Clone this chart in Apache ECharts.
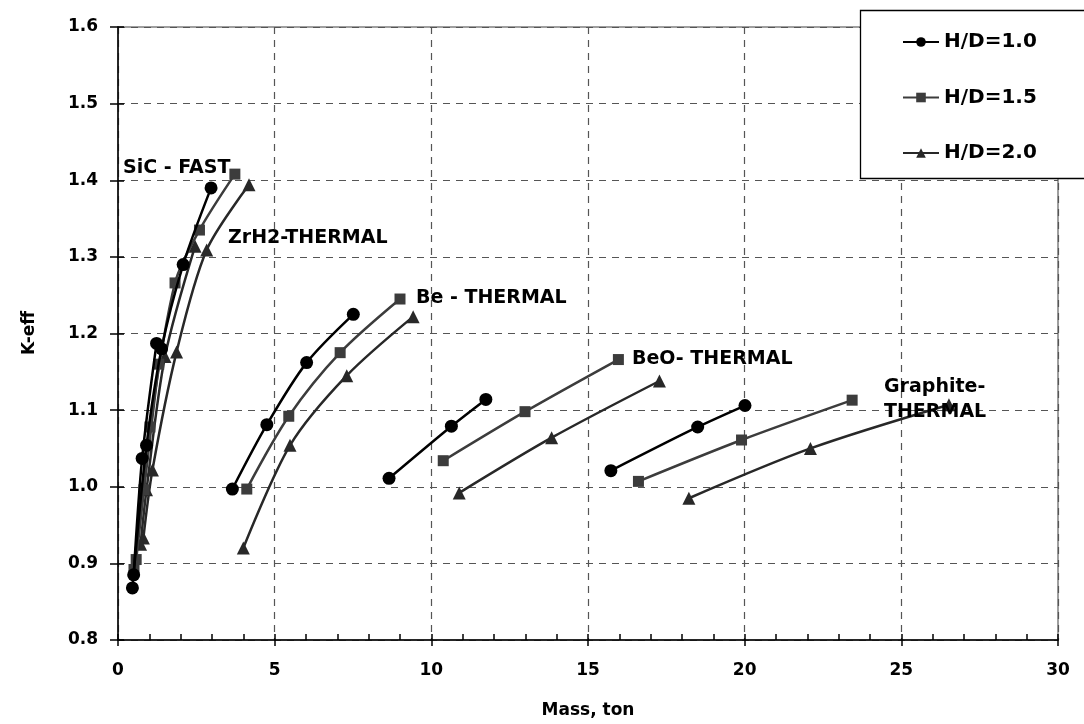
<!DOCTYPE html>
<html><head><meta charset="utf-8">
<script src="https://cdn.jsdelivr.net/npm/echarts@6/dist/echarts.min.js"></script>
<style>html,body{margin:0;padding:0;background:#fff}#c{width:1084px;height:724px}</style>
</head><body><div id="c"></div>
<script>
// Legend / series names
const hdNames = ['H/D=1.0', 'H/D=1.5', 'H/D=2.0'];
// Axis ranges and tick labels
const xTicks = [0, 5, 10, 15, 20, 25, 30];
const yTicks = [0.8, 0.9, 1.0, 1.1, 1.2, 1.3, 1.4, 1.5, 1.6];

// [mass (ton), K-eff]
const sicHD10 = [[0.46, 0.868], [0.91, 1.054], [1.39, 1.180], [2.08, 1.290], [2.97, 1.390]];
const sicHD15 = [[0.51, 0.892], [1.02, 1.078], [1.82, 1.266], [2.60, 1.335], [3.73, 1.408]];
const sicHD20 = [[0.81, 0.933], [1.10, 1.022], [1.87, 1.176], [2.83, 1.309], [4.18, 1.394]];

const zrhHD10 = [[0.50, 0.885], [0.77, 1.037], [1.23, 1.187]];
const zrhHD15 = [[0.58, 0.905], [0.83, 0.996], [1.30, 1.160]];
const zrhHD20 = [[0.72, 0.925], [0.91, 0.996], [1.50, 1.170], [2.46, 1.314]];

const beHD10 = [[3.65, 0.997], [4.75, 1.081], [6.02, 1.162], [7.51, 1.225]];
const beHD15 = [[4.11, 0.997], [5.45, 1.092], [7.09, 1.175], [9.00, 1.245]];
const beHD20 = [[4.00, 0.920], [5.49, 1.054], [7.30, 1.145], [9.42, 1.222]];

const beoHD10 = [[8.65, 1.011], [10.64, 1.079], [11.74, 1.114]];
const beoHD15 = [[10.38, 1.034], [12.99, 1.098], [15.97, 1.166]];
const beoHD20 = [[10.89, 0.992], [13.84, 1.064], [17.28, 1.138]];

const grHD10 = [[15.73, 1.021], [18.50, 1.078], [20.01, 1.106]];
const grHD15 = [[16.61, 1.007], [19.90, 1.061], [23.43, 1.113]];
const grHD20 = [[18.22, 0.985], [22.10, 1.050], [26.52, 1.107]];

const FONT = '"DejaVu Sans", Verdana, sans-serif';
const styles = [
  { color: '#000000', symbol: 'circle', size: 13 },
  { color: '#3c3c3c', symbol: 'rect', size: 11 },
  { color: '#282828', symbol: 'triangle', size: 13 }
];
const groups = [
  [sicHD10, sicHD15, sicHD20],
  [zrhHD10, zrhHD15, zrhHD20],
  [beHD10, beHD15, beHD20],
  [beoHD10, beoHD15, beoHD20],
  [grHD10, grHD15, grHD20]
];
const series = [];
groups.forEach(g => g.forEach((d, i) => {
  const s = styles[i];
  series.push({
    name: hdNames[i], type: 'line', data: d, smooth: 0.3,
    symbol: s.symbol, symbolSize: s.size, showSymbol: true,
    lineStyle: { color: s.color, width: 2.5 },
    itemStyle: { color: s.color, opacity: 1 },
    emphasis: { disabled: true }, animation: false, z: 5 - i
  });
}));

const chart = echarts.init(document.getElementById('c'), null, { renderer: 'canvas' });
const labelStyle = { fontFamily: FONT, fontWeight: 'bold', fontSize: 17, color: '#000' };
chart.setOption({
  animation: false,
  grid: { left: 118, right: 26, top: 27, bottom: 84, show: true, borderColor: '#808080', borderWidth: 1.5, backgroundColor: '#fff' },
  xAxis: [{
    type: 'value', min: xTicks[0], max: xTicks[xTicks.length - 1], interval: 5,
    axisLine: { show: true, onZero: false, lineStyle: { color: '#000', width: 1.5 } },
    axisTick: { show: true, inside: false, length: 6, lineStyle: { color: '#000', width: 1.5 } },
    axisLabel: Object.assign({ margin: 22 }, labelStyle),
    splitLine: { show: true, lineStyle: { color: '#555', type: [7, 6], width: 1.2 } }
  }, {
    type: 'value', min: 0, max: 30, interval: 1, position: 'bottom',
    axisLine: { show: false }, axisLabel: { show: false }, splitLine: { show: false },
    axisTick: { show: true, inside: true, length: 6, lineStyle: { color: '#000', width: 1.5 } }
  }],
  yAxis: [{
    type: 'value', min: yTicks[0], max: yTicks[yTicks.length - 1], interval: 0.1,
    axisLine: { show: true, onZero: false, lineStyle: { color: '#000', width: 1.5 } },
    axisTick: { show: true, inside: false, length: 8, lineStyle: { color: '#000', width: 1.5 } },
    axisLabel: Object.assign({ margin: 20, formatter: v => v.toFixed(1) }, labelStyle),
    splitLine: { show: true, lineStyle: { color: '#555', type: [7, 6], width: 1.2 } }
  }, {
    type: 'value', min: 0.8, max: 1.6, interval: 0.1, position: 'left',
    axisLine: { show: false }, axisLabel: { show: false }, splitLine: { show: false },
    axisTick: { show: true, inside: true, length: 6, lineStyle: { color: '#000', width: 1.5 } }
  }],
  legend: {
    data: hdNames, orient: 'vertical', left: 902, top: 32, padding: 0,
    itemGap: 35.5, itemWidth: 36, itemHeight: 12, z: 10,
    textStyle: Object.assign({}, labelStyle, { fontSize: 20 }), inactiveColor: '#000'
  },
  graphic: [
    { type: 'rect', z: 8, shape: { x: 860.5, y: 10.5, width: 240, height: 168 }, style: { fill: '#fff', stroke: '#000', lineWidth: 1.3 } },
    { type: 'text', z: 9, left: 123, top: 159, style: { text: 'SiC - FAST', font: 'bold 19px ' + FONT, fill: '#000' } },
    { type: 'text', z: 9, left: 228, top: 229, style: { text: 'ZrH2-THERMAL', font: 'bold 19px ' + FONT, fill: '#000' } },
    { type: 'text', z: 9, left: 416, top: 289, style: { text: 'Be - THERMAL', font: 'bold 19px ' + FONT, fill: '#000' } },
    { type: 'text', z: 9, left: 632, top: 350, style: { text: 'BeO- THERMAL', font: 'bold 19px ' + FONT, fill: '#000' } },
    { type: 'text', z: 9, left: 884, top: 375, style: { text: 'Graphite-\nTHERMAL', font: 'bold 19px ' + FONT, fill: '#000', lineHeight: 25 } },
    { type: 'text', z: 9, x: 30, y: 333, rotation: Math.PI / 2, style: { text: 'K-eff', font: 'bold 17px ' + FONT, fill: '#000', align: 'center', verticalAlign: 'middle' } },
    { type: 'text', z: 9, x: 588, y: 711, style: { text: 'Mass, ton', font: 'bold 17px ' + FONT, fill: '#000', align: 'center', verticalAlign: 'middle' } }
  ],
  series: series
});
</script></body></html>
